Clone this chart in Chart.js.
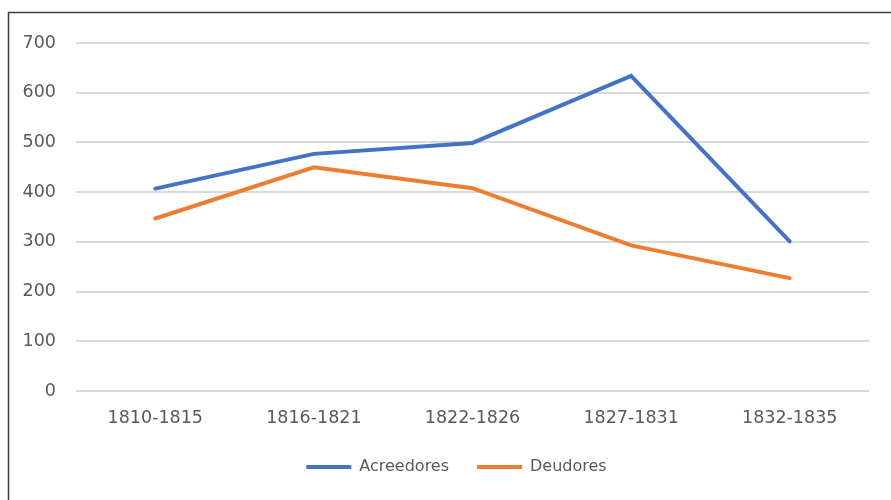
<!DOCTYPE html>
<html>
<head>
<meta charset="utf-8">
<script src="https://cdn.jsdelivr.net/npm/chart.js@4"></script>
<style>
  html, body { margin: 0; padding: 0; background: #fff; }
  #wrap { width: 891px; height: 500px; }
</style>
</head>
<body>
<div id="wrap"><canvas id="myChart" width="891" height="500"></canvas></div>
<script>
// chart data
const periods = ['1810-1815', '1816-1821', '1822-1826', '1827-1831', '1832-1835'];
const acreedores = [407, 477, 499, 634, 301];
const deudores = [347, 450, 408, 293, 227];
const yTicks = [0, 100, 200, 300, 400, 500, 600, 700];

const textColor = '#595959';
const fontFamily = 'DejaVu Sans';

// outer frame like the spreadsheet chart border
const framePlugin = {
    id: 'frame',
    afterLayout(chart) {
        // nudge the legend up and right, chart area stays where it is
        if (chart.legend) {
            chart.legend.top -= 15;
            chart.legend.left += 22;
            chart.legend.right += 22;
        }
    },
    beforeDraw(chart) {
        const ctx = chart.ctx;
        ctx.save();
        ctx.fillStyle = '#fff';
        ctx.fillRect(0, 0, chart.width, chart.height);
        ctx.strokeStyle = '#3f3f3f';
        ctx.lineWidth = 1.5;
        ctx.beginPath();
        ctx.moveTo(8.5, chart.height);
        ctx.lineTo(8.5, 12.5);
        ctx.lineTo(chart.width, 12.5);
        ctx.stroke();
        ctx.restore();
    }
};

const ctx = document.getElementById('myChart').getContext('2d');
const chart = new Chart(ctx, {
    type: 'line',
    data: {
        labels: periods,
        datasets: [{
            label: 'Acreedores',
            data: acreedores,
            borderColor: '#4472C4',
            backgroundColor: '#4472C4',
            borderWidth: 4,
            borderCapStyle: 'round',
            pointRadius: 0,
            tension: 0
        }, {
            label: 'Deudores',
            data: deudores,
            borderColor: '#ED7D31',
            backgroundColor: '#ED7D31',
            borderWidth: 4,
            borderCapStyle: 'round',
            pointRadius: 0,
            tension: 0
        }]
    },
    options: {
        responsive: false,
        animation: false,
        layout: {
            padding: { top: 43, right: 22, bottom: 0, left: 0 }
        },
        plugins: {
            tooltip: { enabled: false },
            legend: {
                position: 'bottom',
                labels: {
                    color: textColor,
                    font: { family: fontFamily, size: 16 },
                    boxWidth: 45,
                    boxHeight: 4,
                    padding: 28,
                    generateLabels(chart) {
                        return Chart.defaults.plugins.legend.labels.generateLabels(chart).map(item => {
                            item.lineWidth = 0;
                            item.fillStyle = chart.data.datasets[item.datasetIndex].borderColor;
                            return item;
                        });
                    }
                }
            }
        },
        scales: {
            x: {
                offset: true,
                grid: { display: false, drawTicks: false },
                border: { display: false },
                ticks: {
                    color: textColor,
                    font: { family: fontFamily, size: 17.5 },
                    padding: 17,
                    maxRotation: 0
                }
            },
            y: {
                min: 0,
                max: 700,
                afterFit(scale) { scale.width = 76; },
                afterBuildTicks(scale) { scale.ticks = yTicks.map(v => ({ value: v })); },
                grid: { color: '#D9D9D9', lineWidth: 2, drawTicks: false },
                border: { display: false },
                ticks: {
                    color: textColor,
                    font: { family: fontFamily, size: 17.5 },
                    padding: 20
                }
            }
        }
    },
    plugins: [framePlugin]
});
</script>
</body>
</html>
